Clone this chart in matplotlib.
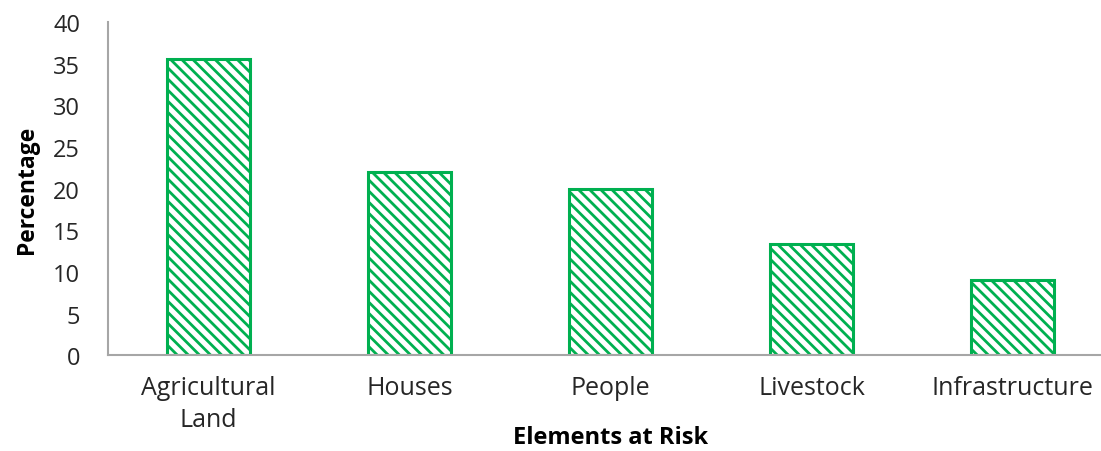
import matplotlib.pyplot as plt

# Elements at risk and their share (%)
categories = ["Agricultural\nLand", "Houses", "People", "Livestock", "Infrastructure"]
percentages = [35.6, 22.0, 20.0, 13.4, 9.0]
y_ticks = [0, 5, 10, 15, 20, 25, 30, 35, 40]

GREEN = "#00B050"
AXIS_GREY = "#A6A6A6"
TEXT = "#262626"

plt.rcParams["font.family"] = ["Open Sans", "DejaVu Sans"]
plt.rcParams["hatch.color"] = GREEN
plt.rcParams["hatch.linewidth"] = 2.0

fig = plt.figure(figsize=(11.01, 4.52), dpi=100)
# plot area runs a little past the right edge of the canvas
ax = fig.add_axes([0.098, 0.212, 0.913, 0.737])

x = range(len(categories))
ax.bar(x, percentages, width=0.413, facecolor="white", edgecolor=GREEN,
       linewidth=2.2, hatch="\\\\\\")

ax.set_xlim(-0.5, len(categories) - 0.5)
ax.set_ylim(0, 40)
ax.set_yticks(y_ticks)
ax.set_xticks(list(x))
ax.set_xticklabels(categories, fontsize=18, color=TEXT, linespacing=1.4)
ax.tick_params(axis="y", labelsize=17, labelcolor=TEXT, length=0, pad=20)
ax.tick_params(axis="x", length=0, pad=14)

for side in ("top", "right"):
    ax.spines[side].set_visible(False)
for side in ("left", "bottom"):
    ax.spines[side].set_color(AXIS_GREY)
    ax.spines[side].set_linewidth(1.5)

ax.set_ylabel("Percentage", fontsize=16.5, fontweight="bold", color="black", labelpad=10)
ax.set_xlabel("Elements at Risk", fontsize=17, fontweight="bold", color="black", labelpad=-5)

fig.savefig("out.png", dpi=100)
